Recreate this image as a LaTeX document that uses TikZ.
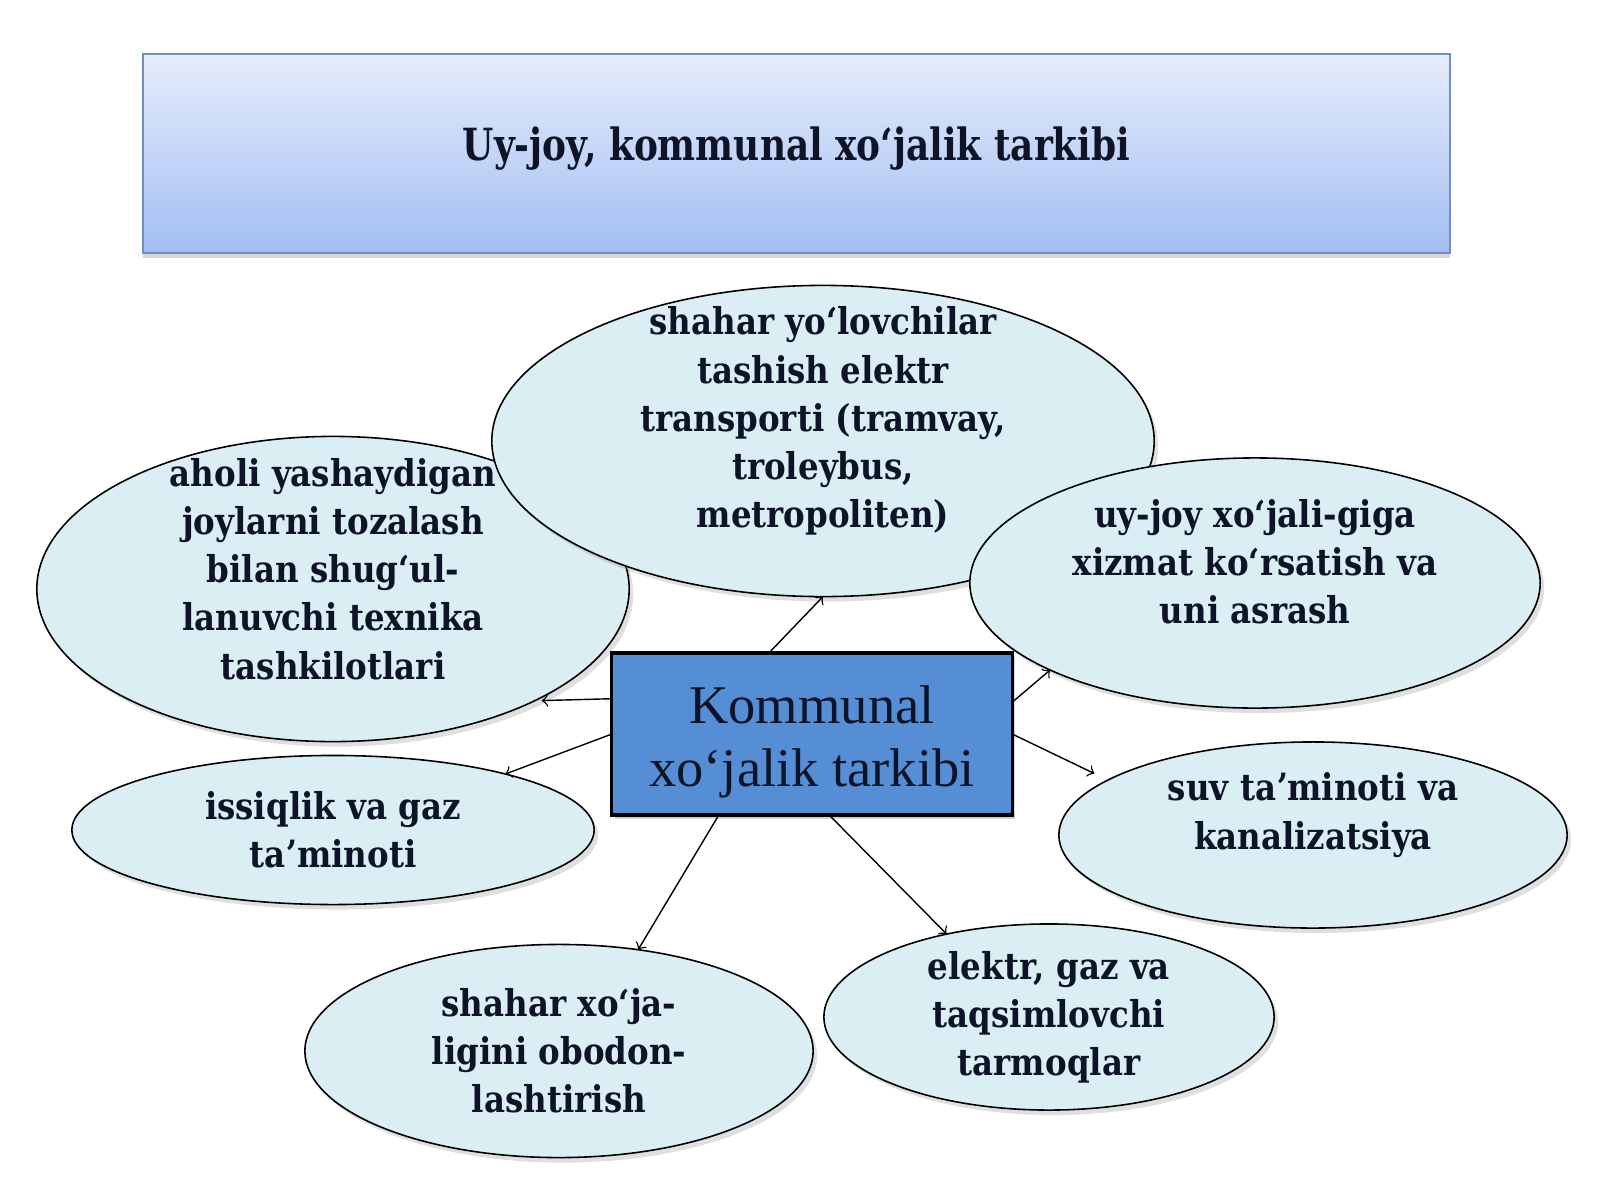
\documentclass[tikz,border=0pt]{standalone}
\usepackage{fontspec}
\setmainfont{Liberation Serif}
\newfontfamily\bubfont{DejaVu Serif}[FakeStretch=0.88]
\newfontfamily\headfont{DejaVu Serif}[FakeStretch=0.81]
\usetikzlibrary{shapes.geometric,shadows}

\definecolor{bubfill}{RGB}{219,238,244}
\definecolor{boxfill}{RGB}{85,142,213}
\definecolor{titletop}{RGB}{230,237,251}
\definecolor{titlebot}{RGB}{163,190,243}
\definecolor{titleline}{RGB}{118,140,196}
\definecolor{inktext}{RGB}{14,20,40}

\tikzset{
	bubble/.style={ellipse, draw=black, line width=0.45pt, fill=bubfill,
		inner sep=0pt, outer sep=0pt,
		drop shadow={shadow xshift=0.04cm, shadow yshift=-0.05cm, opacity=0.25}},
	bubtext/.style={align=center, text=inktext,
		font=\bubfont\bfseries\fontsize{10.5}{13.7}\selectfont},
	arr/.style={->, line width=0.4pt}
}

\begin{document}
\begin{tikzpicture}[x=0.01cm, y=-0.01cm]
			\useasboundingbox[fill=white] (0,0) rectangle (1600,1200);

			% title bar
			\node[draw=titleline, line width=0.6pt, top color=titletop, bottom color=titlebot,
				minimum width=13.07cm, minimum height=1.99cm, inner sep=0pt, outer sep=0pt,
				drop shadow={shadow xshift=0cm, shadow yshift=-0.05cm, opacity=0.3}]
				(title) at (796.5,153.5) {};
			\node[text=inktext, font=\headfont\bfseries\fontsize{12.6}{15}\selectfont]
				(title-t) at ([yshift=0.05cm]title.center) {Uy-joy, kommunal xoʻjalik tarkibi};

			% ellipses
			\node[bubble, minimum width=5.92cm, minimum height=3.05cm] (aholi) at (333,589) {};
			\node[bubble, minimum width=6.62cm, minimum height=3.11cm] (yolov) at (823,441) {};
			\node[bubble, minimum width=5.70cm, minimum height=2.50cm] (uyjoy) at (1255,583) {};
			\node[bubble, minimum width=5.22cm, minimum height=1.49cm] (issiq) at (333,830) {};
			\node[bubble, minimum width=5.08cm, minimum height=1.86cm] (suv) at (1313,835) {};
			\node[bubble, minimum width=5.08cm, minimum height=2.13cm] (obodon) at (559,1051) {};
			\node[bubble, minimum width=4.50cm, minimum height=1.86cm] (elektr) at (1049,1017) {};

			% ellipse texts
			\node[bubtext] (aholi-t) at ([yshift=0.2cm]aholi.center)
				{aholi yashaydigan\\joylarni tozalash\\bilan shugʻul-\\lanuvchi texnika\\tashkilotlari};
			\node[bubtext] (yolov-t) at ([yshift=0.2cm]yolov.center)
				{shahar yoʻlovchilar\\tashish elektr\\transporti (tramvay,\\troleybus,\\metropoliten)};
			\node[bubtext] (uyjoy-t) at ([yshift=0.21cm]uyjoy.center)
				{uy-joy xoʻjali-giga\\xizmat koʻrsatish va\\uni asrash};
			\node[bubtext] (issiq-t) at (issiq.center) {issiqlik va gaz\\taʼminoti};
			\node[bubtext] (suv-t) at ([yshift=0.2cm]suv.center) {suv taʼminoti va\\kanalizatsiya};
			\node[bubtext] (obodon-t) at (obodon.center) {shahar xoʻja-\\ligini obodon-\\lashtirish};
			\node[bubtext] (elektr-t) at (elektr.center) {elektr, gaz va\\taqsimlovchi\\tarmoqlar};

			% centre box
			\node[draw=black, line width=0.9pt, fill=boxfill, minimum width=4cm, minimum height=1.62cm,
				inner sep=0pt, outer sep=0pt,
				drop shadow={shadow xshift=0.03cm, shadow yshift=-0.04cm, opacity=0.35}]
				(kommunal) at (812,734) {};
			\node[align=center, text=inktext, font=\fontsize{15.5}{18}\selectfont]
				(kommunal-t) at ([yshift=-0.08cm]kommunal.center) {Kommunal\\xo‘jalik tarkibi};

			% arrows
			\draw[arr] (kommunal.118) -- (yolov.270);
			\draw[arr, shorten >=0.07cm] (kommunal.170) -- (aholi.331.8);
			\draw[arr] (kommunal.180) -- (issiq.18);
			\draw[arr] (kommunal.9) -- (uyjoy.203);
			\draw[arr, shorten >=0.15cm] (kommunal.0) -- (suv.165);
			\draw[arr] (kommunal.221) -- (obodon.52);
			\draw[arr] (kommunal.282) -- (elektr.141);
\end{tikzpicture}
\end{document}
